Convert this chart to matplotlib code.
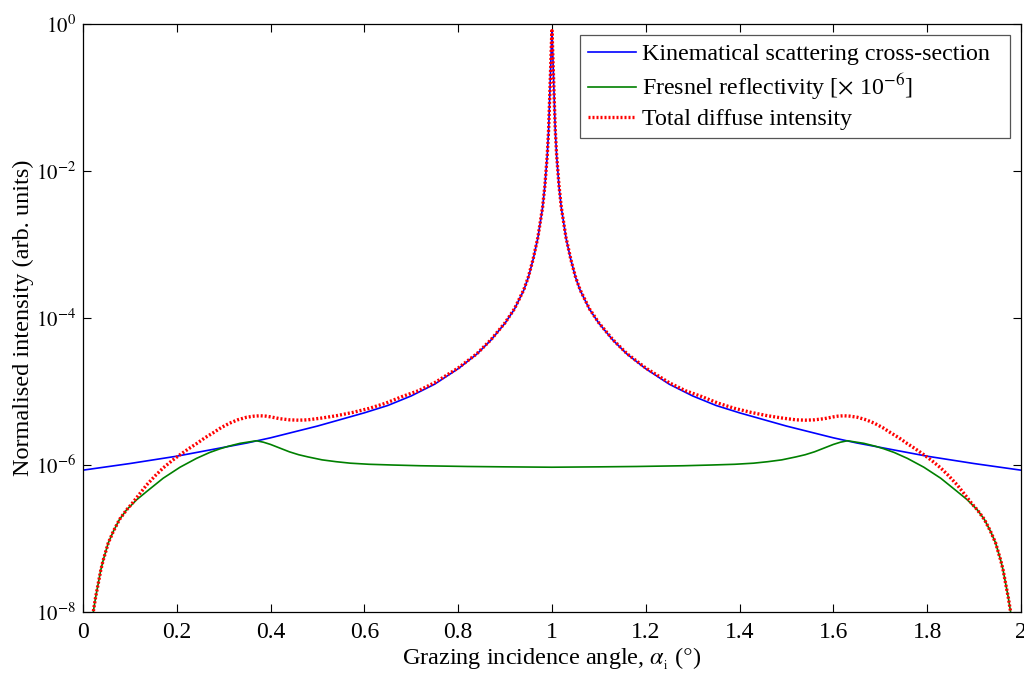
import numpy as np
import matplotlib
matplotlib.use("Agg")
import matplotlib.pyplot as plt

# values (x in degrees, y as log10 of intensity)
x_kin = [0.00, 0.05, 0.10, 0.15, 0.20, 0.25, 0.30, 0.35, 0.40, 0.45, 0.50, 0.55,
         0.60, 0.65, 0.70, 0.75, 0.80, 0.84, 0.87, 0.90, 0.92, 0.94, 0.95, 0.96,
         0.97, 0.98, 0.985, 0.99, 0.993, 0.996, 0.998, 0.999, 1.00,
         1.001, 1.002, 1.004, 1.007, 1.01, 1.015, 1.02, 1.03, 1.04, 1.05, 1.06, 1.08,
         1.10, 1.13, 1.16, 1.20, 1.25, 1.30, 1.35, 1.40, 1.45, 1.50, 1.55, 1.60,
         1.65, 1.70, 1.75, 1.80, 1.85, 1.90, 1.95, 2.00]
log_kin = [-6.07, -6.025, -5.98, -5.93, -5.88, -5.82, -5.76, -5.70, -5.63, -5.55, -5.47, -5.38,
           -5.29, -5.19, -5.06, -4.90, -4.69, -4.49, -4.30, -4.07, -3.88, -3.62, -3.44, -3.20,
           -2.91, -2.50, -2.20, -1.79, -1.43, -0.85, -0.45, -0.25, -0.10,
           -0.25, -0.45, -0.85, -1.43, -1.79, -2.20, -2.50, -2.91, -3.20, -3.44, -3.62, -3.88,
           -4.07, -4.30, -4.49, -4.69, -4.90, -5.06, -5.19, -5.29, -5.38, -5.47, -5.55, -5.63,
           -5.70, -5.76, -5.82, -5.88, -5.93, -5.98, -6.025, -6.07]

x_fres = [0.019, 0.022, 0.027, 0.033, 0.038, 0.043, 0.054, 0.065, 0.078, 0.093, 0.115,
          0.136, 0.171, 0.207, 0.242, 0.27, 0.292, 0.31, 0.335, 0.35, 0.37, 0.385,
          0.40, 0.42, 0.44, 0.46, 0.48, 0.51, 0.54, 0.57, 0.61, 0.66, 0.72, 0.82, 0.90, 1.00,
          1.10, 1.18, 1.28, 1.34, 1.39, 1.43, 1.46, 1.49, 1.52, 1.54, 1.56, 1.58, 1.60,
          1.615, 1.63, 1.65, 1.665, 1.69, 1.708, 1.73, 1.758, 1.793, 1.829, 1.864, 1.885,
          1.907, 1.922, 1.935, 1.946, 1.957, 1.962, 1.967, 1.973, 1.978, 1.981]
log_fres = [-8.15, -8.0, -7.80, -7.60, -7.43, -7.30, -7.06, -6.90, -6.74, -6.61, -6.47,
            -6.36, -6.18, -6.03, -5.91, -5.83, -5.78, -5.745, -5.705, -5.69, -5.67, -5.69,
            -5.72, -5.77, -5.82, -5.86, -5.89, -5.93, -5.955, -5.975, -5.99, -6.00, -6.01, -6.02, -6.025, -6.03,
            -6.025, -6.02, -6.01, -6.00, -5.99, -5.975, -5.955, -5.93, -5.89, -5.86, -5.82, -5.77, -5.72,
            -5.69, -5.67, -5.69, -5.705, -5.745, -5.78, -5.83, -5.91, -6.03, -6.18, -6.36, -6.47,
            -6.61, -6.74, -6.90, -7.06, -7.30, -7.43, -7.60, -7.80, -8.0, -8.15]

x_tot = [0.019, 0.022, 0.027, 0.033, 0.038, 0.043, 0.054, 0.065, 0.078, 0.093, 0.104,
         0.115, 0.136, 0.155, 0.171, 0.19, 0.207, 0.225, 0.242, 0.26, 0.278, 0.295,
         0.313, 0.33, 0.349, 0.365, 0.378, 0.39, 0.40, 0.42, 0.44, 0.46, 0.48, 0.51,
         0.54, 0.575, 0.61, 0.645, 0.68, 0.715, 0.75, 0.80, 0.84, 0.87, 0.90, 0.92,
         0.94, 0.95, 0.96, 0.97, 0.98, 0.985, 0.99, 0.993, 0.996, 0.998, 0.999, 1.00,
         1.001, 1.002, 1.004, 1.007, 1.01, 1.015, 1.02, 1.03, 1.04, 1.05, 1.06, 1.08,
         1.10, 1.13, 1.16, 1.20, 1.25, 1.285, 1.32, 1.355, 1.39, 1.425, 1.46, 1.49,
         1.52, 1.54, 1.56, 1.58, 1.60, 1.61, 1.622, 1.635, 1.651, 1.67, 1.687, 1.705,
         1.722, 1.74, 1.758, 1.775, 1.793, 1.81, 1.829, 1.845, 1.864, 1.885, 1.896,
         1.907, 1.922, 1.935, 1.946, 1.957, 1.962, 1.967, 1.973, 1.978, 1.981]
log_tot = [-8.15, -8.0, -7.80, -7.60, -7.43, -7.30, -7.06, -6.90, -6.74, -6.61, -6.53,
           -6.44, -6.27, -6.14, -6.04, -5.94, -5.86, -5.78, -5.71, -5.63, -5.56, -5.49,
           -5.43, -5.385, -5.35, -5.335, -5.33, -5.335, -5.345, -5.37, -5.385, -5.39, -5.385, -5.36,
           -5.33, -5.285, -5.23, -5.16, -5.07, -4.99, -4.88, -4.68, -4.485, -4.295, -4.065, -3.875,
           -3.615, -3.435, -3.195, -2.905, -2.495, -2.195, -1.785, -1.425, -0.845, -0.445, -0.245, -0.09,
           -0.245, -0.445, -0.845, -1.425, -1.785, -2.195, -2.495, -2.905, -3.195, -3.435, -3.615, -3.875,
           -4.065, -4.295, -4.485, -4.68, -4.88, -4.99, -5.07, -5.16, -5.23, -5.285, -5.33, -5.36,
           -5.385, -5.39, -5.385, -5.37, -5.345, -5.335, -5.33, -5.335, -5.35, -5.385, -5.43, -5.49,
           -5.56, -5.63, -5.71, -5.78, -5.86, -5.94, -6.04, -6.14, -6.27, -6.44, -6.53,
           -6.61, -6.74, -6.90, -7.06, -7.30, -7.43, -7.60, -7.80, -8.0, -8.15]

x_ticks = [0, 0.2, 0.4, 0.6, 0.8, 1, 1.2, 1.4, 1.6, 1.8, 2]
x_tick_labels = ['0', '0.2', '0.4', '0.6', '0.8', '1', '1.2', '1.4', '1.6', '1.8', '2']
y_ticks = [1e-8, 1e-6, 1e-4, 1e-2, 1e0]
y_tick_labels = [r'$\mathrm{10^{-8}}$', r'$\mathrm{10^{-6}}$', r'$\mathrm{10^{-4}}$',
                 r'$\mathrm{10^{-2}}$', r'$\mathrm{10^{0}}$']

plt.rcParams['font.family'] = 'Liberation Serif'
plt.rcParams['mathtext.fontset'] = 'stix'

fig = plt.figure(figsize=(10.24, 6.77), dpi=100)
ax = fig.add_axes([0.081, 0.096, 0.916, 0.8685])

ax.plot(x_kin, 10 ** np.array(log_kin), color='#0000ff', lw=1.2,
        label='Kinematical scattering cross-section  ')
ax.plot(x_fres, 10 ** np.array(log_fres), color='#008000', lw=1.2,
        label=r'Fresnel reflectivity [$\times$ 10$^{-6}$]')
ax.plot(x_tot, 10 ** np.array(log_tot), color='#ff0000', lw=2.4,
        linestyle=(0, (0.6, 0.6)), label='Total diffuse intensity')

ax.set_yscale('log')
ax.set_xlim(0, 2)
ax.set_ylim(1e-8, 1)
ax.set_xticks(x_ticks)
ax.set_xticklabels(x_tick_labels)
ax.set_yticks(y_ticks)
ax.set_yticklabels(y_tick_labels)
ax.minorticks_off()
ax.tick_params(direction='in', top=True, right=True, length=6, width=0.8)
ax.tick_params(axis='x', labelsize=17, pad=7)
ax.tick_params(axis='y', labelsize=15, pad=5)
for s in ax.spines.values():
    s.set_linewidth(0.9)

ax.set_xlabel(r'Grazing incidence angle, $\alpha_{_{\rm i}}$ ($\degree$)', fontsize=17.5, va='center')
ax.xaxis.set_label_coords(0.5, -0.080)
ax.set_ylabel('Normalised intensity (arb. units)', fontsize=17.5, va='center')
ax.yaxis.set_label_coords(-0.064, 0.5)

leg = ax.legend(loc='upper right', fontsize=17.3, fancybox=False, framealpha=1,
                edgecolor='#555555', handlelength=2.0, handletextpad=0.25,
                borderaxespad=0.47, labelspacing=0.27, borderpad=0.33)
leg.get_frame().set_linewidth(0.9)

fig.savefig('out.png', dpi=100)
